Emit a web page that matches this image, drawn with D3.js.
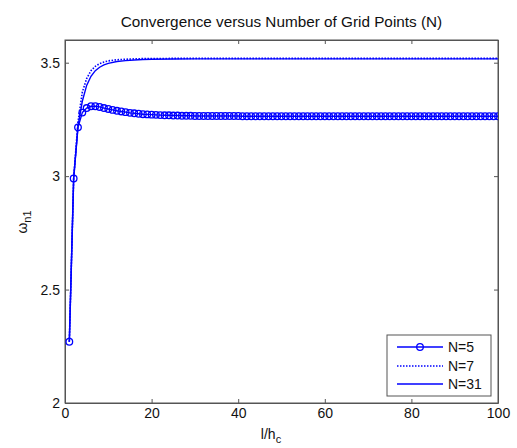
<!DOCTYPE html>
<html><head><meta charset="utf-8">
<script src="https://cdn.jsdelivr.net/npm/d3@7"></script>
<style>body{margin:0;background:#fff}svg{display:block;font-family:"Liberation Sans",Arial,sans-serif}</style>
</head><body>
<svg id="c" width="517" height="448"></svg>
<script>
const title = "Convergence versus Number of Grid Points (N)";
const xTicks = [0, 20, 40, 60, 80, 100];
const yTicks = [2, 2.5, 3, 3.5];
const seriesNames = ["N=5", "N=7", "N=31"];
// N=5: one value per integer l/h from 1 to 100
const n5 = [
 2.27, 2.99, 3.215, 3.28, 3.30, 3.308, 3.308, 3.305, 3.30, 3.296,
 3.292, 3.288, 3.285, 3.282, 3.279, 3.277, 3.275, 3.273, 3.272, 3.271,
 3.270, 3.269, 3.268, 3.268, 3.267, 3.267, 3.266, 3.266, 3.266, 3.265,
 3.265, 3.265, 3.265, 3.265, 3.265, 3.265, 3.265, 3.265, 3.265, 3.265,
 3.264, 3.264, 3.264, 3.264, 3.264, 3.264, 3.264, 3.264, 3.264, 3.264,
 3.264, 3.264, 3.264, 3.264, 3.264, 3.264, 3.264, 3.264, 3.264, 3.264,
 3.264, 3.264, 3.264, 3.264, 3.264, 3.264, 3.264, 3.264, 3.264, 3.264,
 3.264, 3.264, 3.264, 3.264, 3.264, 3.264, 3.264, 3.264, 3.264, 3.264,
 3.264, 3.264, 3.264, 3.264, 3.264, 3.264, 3.264, 3.264, 3.264, 3.264,
 3.264, 3.264, 3.264, 3.264, 3.264, 3.264, 3.264, 3.264, 3.264, 3.264
];
const n7x = [1, 2, 3, 4, 5, 6, 7, 8, 9, 10, 12, 14, 16, 18, 20, 25, 30, 40, 60, 80, 100];
const n7y = [2.27, 2.99, 3.24, 3.37, 3.43, 3.465, 3.484, 3.496, 3.503, 3.508, 3.513, 3.515, 3.517, 3.518, 3.518, 3.519, 3.519, 3.519, 3.519, 3.519, 3.519];
const n31x = [1, 2, 3, 4, 5, 6, 7, 8, 9, 10, 12, 14, 16, 18, 20, 25, 30, 40, 60, 80, 100];
const n31y = [2.27, 2.99, 3.22, 3.33, 3.40, 3.44, 3.465, 3.48, 3.49, 3.497, 3.505, 3.509, 3.512, 3.514, 3.515, 3.516, 3.517, 3.517, 3.517, 3.517, 3.517];

const svg = d3.select("#c");
const L = 65, R = 498, T = 40, B = 403;
const x = d3.scaleLinear().domain([0, 100]).range([L, R]);
const y = d3.scaleLinear().domain([2, 3.6]).range([B, T]);
const blue = "#0000ff", axisCol = "#555";

svg.append("rect").attr("x", L).attr("y", T).attr("width", R - L).attr("height", B - T)
  .attr("fill", "#fff").attr("stroke", axisCol).attr("stroke-width", 1);

const fs = "14px";
const gx = svg.append("g").attr("transform", `translate(0,${B})`)
  .call(d3.axisBottom(x).tickValues(xTicks).tickSizeInner(-4).tickSizeOuter(0).tickPadding(7));
const gxt = svg.append("g").attr("transform", `translate(0,${T})`)
  .call(d3.axisTop(x).tickValues(xTicks).tickSizeInner(-4).tickSizeOuter(0).tickFormat(""));
const gy = svg.append("g").attr("transform", `translate(${L},0)`)
  .call(d3.axisLeft(y).tickValues(yTicks).tickSizeInner(-4).tickSizeOuter(0).tickPadding(5).tickFormat(d3.format("")));
const gyr = svg.append("g").attr("transform", `translate(${R},0)`)
  .call(d3.axisRight(y).tickValues(yTicks).tickSizeInner(-4).tickSizeOuter(0).tickFormat(""));
[gx, gxt, gy, gyr].forEach(g => {
  g.select(".domain").attr("stroke", axisCol);
  g.selectAll(".tick line").attr("stroke", axisCol);
  g.selectAll("text").attr("font-size", fs).attr("fill", "#111").attr("font-family", "Liberation Sans, Arial, sans-serif");
});
gx.selectAll("text").attr("dy", "0.6em");

const line = d3.line().x(d => x(d[0])).y(d => y(d[1]));
const d5 = n5.map((v, i) => [i + 1, v]);
const d7 = n7x.map((v, i) => [v, n7y[i]]);
const d31 = n31x.map((v, i) => [v, n31y[i]]);
svg.append("clipPath").attr("id", "clp").append("rect")
  .attr("x", L).attr("y", T).attr("width", R - L).attr("height", B - T);
const plot = svg.append("g").attr("clip-path", "url(#clp)");
plot.append("path").datum(d31).attr("d", line).attr("fill", "none").attr("stroke", blue).attr("stroke-width", 1.4);
plot.append("path").datum(d7).attr("d", line).attr("fill", "none").attr("stroke", blue).attr("stroke-width", 1.6).attr("stroke-dasharray", "1.5,1.5");
plot.append("path").datum(d5).attr("d", line).attr("fill", "none").attr("stroke", blue).attr("stroke-width", 1.4);
plot.selectAll("circle.m").data(d5).join("circle").attr("class", "m")
  .attr("cx", d => x(d[0])).attr("cy", d => y(d[1])).attr("r", 3.3)
  .attr("fill", "none").attr("stroke", blue).attr("stroke-width", 1.3);

svg.append("text").attr("x", (L + R) / 2).attr("y", 27).attr("text-anchor", "middle")
  .attr("font-size", "15.3px").attr("fill", "#111").text(title);

const xl = svg.append("text").attr("x", 271).attr("y", 439).attr("text-anchor", "middle")
  .attr("font-size", "14px").attr("fill", "#111");
xl.append("tspan").text("l/h");
xl.append("tspan").attr("font-size", "11px").attr("dy", "4").text("c");

const yl = svg.append("text").attr("transform", "translate(27,222) rotate(-90)")
  .attr("text-anchor", "middle").attr("font-size", "14px").attr("fill", "#111");
yl.append("tspan").text("ω");
yl.append("tspan").attr("font-size", "11px").attr("dy", "4").text("n1");

const lg = svg.append("g");
lg.append("rect").attr("x", 387).attr("y", 335).attr("width", 104).attr("height", 61)
  .attr("fill", "#fff").attr("stroke", axisCol).attr("stroke-width", 1);
const rows = [347, 366, 384];
seriesNames.forEach((name, i) => {
  const ry = rows[i];
  const ln = lg.append("line").attr("x1", 397).attr("x2", 443).attr("y1", ry).attr("y2", ry)
    .attr("stroke", blue).attr("stroke-width", 1.4);
  if (i === 1) ln.attr("stroke-dasharray", "1.5,1.5").attr("stroke-width", 1.6);
  if (i === 0) lg.append("circle").attr("cx", 420).attr("cy", ry).attr("r", 3.3)
    .attr("fill", "none").attr("stroke", blue).attr("stroke-width", 1.3);
  lg.append("text").attr("x", 448).attr("y", ry).attr("dy", "0.36em")
    .attr("font-size", "14px").attr("fill", "#111").text(name);
});
</script>
</body></html>
